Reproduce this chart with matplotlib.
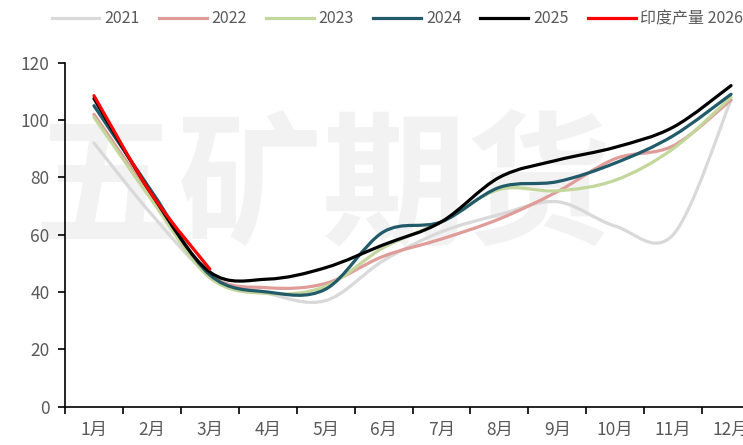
import numpy as np
import matplotlib
matplotlib.use("Agg")
from matplotlib import pyplot as plt
from matplotlib.path import Path
from matplotlib.patches import PathPatch
from matplotlib.lines import Line2D

plt.rcParams['font.family'] = ['Liberation Sans Narrow', 'Noto Sans CJK SC', 'DejaVu Sans']

# Data
months = ["1月", "2月", "3月", "4月", "5月", "6月", "7月", "8月", "9月", "10月", "11月", "12月"]
y2021 = [92, 67, 46, 39.5, 37, 51, 61, 67, 71.5, 63, 60, 107]
y2022 = [102, 73, 46, 41.5, 43, 52.5, 58.5, 65.5, 75, 86.5, 91, 107]
y2023 = [101, 72, 45, 39.5, 42, 55.5, 64.5, 75.8, 75.3, 79, 90, 108]
y2024 = [105, 75, 46, 40, 41, 61, 64.5, 76.5, 78.5, 85, 94.5, 109]
y2025 = [107.5, 74, 47, 44.5, 48.5, 56.5, 64.5, 80, 86, 90.5, 97.5, 112]
y2026 = [108.5, 74, 48]

series = [
    ("2021", y2021, "#d9d9d9"),
    ("2022", y2022, "#e09c99"),
    ("2023", y2023, "#c3d69b"),
    ("2024", y2024, "#215a68"),
    ("2025", y2025, "#000000"),
    ("印度产量 2026", y2026, "#ff0000"),
]


# smooth line like excel: bezier segments through every point
def smooth_path(xs, ys):
    pts = np.column_stack([xs, ys]).astype(float)
    n = len(pts)
    verts = [pts[0]]
    codes = [Path.MOVETO]
    for i in range(n - 1):
        p0 = pts[i - 1] if i > 0 else pts[i]
        p1 = pts[i]
        p2 = pts[i + 1]
        p3 = pts[i + 2] if i + 2 < n else pts[i + 1]
        c1 = p1 + (p2 - p0) / 6.0
        c2 = p2 - (p3 - p1) / 6.0
        verts += [c1, c2, p2]
        codes += [Path.CURVE4] * 3
    return Path(verts, codes)


def main():
    fig = plt.figure(figsize=(7.43, 4.45), dpi=100)
    ax = fig.add_axes([65 / 743, 38.3 / 445, 695 / 743, 344 / 445])

    # watermark, behind the lines
    ax.text(322 / 743, 0.573, "五矿期货", fontsize=104, color="#f2f2f2",
            fontweight="bold", family=["Noto Sans CJK SC"],
            ha="center", va="center", zorder=1, transform=fig.transFigure)

    handles = []
    for k, (name, vals, col) in enumerate(series):
        xs = np.arange(1, len(vals) + 1)
        patch = PathPatch(smooth_path(xs, vals), facecolor="none", edgecolor=col,
                          lw=2.3, zorder=2 + k, capstyle="round", joinstyle="round")
        ax.add_patch(patch)
        handles.append(Line2D([], [], color=col, lw=2.3, label=name))

    ax.set_xlim(0.5, 12.5)
    ax.set_ylim(0, 120)
    ax.set_yticks(range(0, 121, 20))
    ax.set_xticks(np.arange(1, 13))
    ax.set_xticklabels(months)
    ax.set_xticks(np.arange(0.5, 13, 1), minor=True)
    ax.tick_params(axis="x", which="major", length=0, pad=10, labelsize=12.5, colors="#595959")
    ax.tick_params(axis="x", which="minor", length=5, width=1.2, color="black")
    ax.tick_params(axis="y", length=5, width=1.2, color="black", labelsize=12.5,
                   labelcolor="#595959", pad=6)
    for s in ["top", "right"]:
        ax.spines[s].set_visible(False)
    for s in ["left", "bottom"]:
        ax.spines[s].set_color("black")
        ax.spines[s].set_linewidth(1.2)
        ax.spines[s].set_zorder(10)

    fig.legend(handles=handles, loc="center", bbox_to_anchor=(0.535, 0.958), ncol=6,
               frameon=False, fontsize=11.5, handlelength=3.0, handletextpad=0.3,
               columnspacing=1.2, labelcolor="#595959")

    fig.savefig("out.png", dpi=100)


if __name__ == "__main__":
    main()
